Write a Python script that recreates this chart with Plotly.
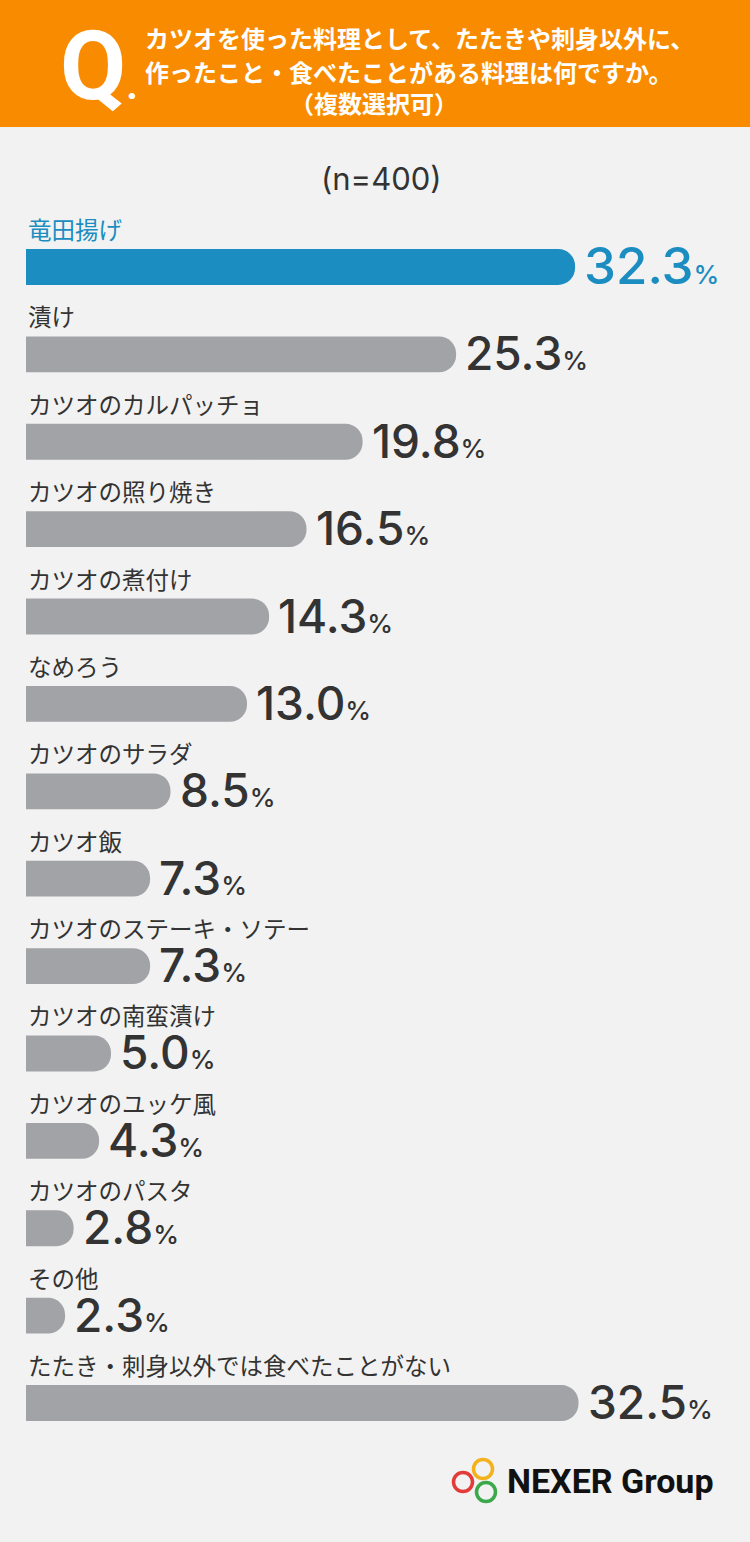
import plotly.graph_objects as go

# survey results (n=400), percentages
dishes = ['竜田揚げ', '漬け', 'カツオのカルパッチョ', 'カツオの照り焼き', 'カツオの煮付け',
          'なめろう', 'カツオのサラダ', 'カツオ飯', 'カツオのステーキ・ソテー', 'カツオの南蛮漬け',
          'カツオのユッケ風', 'カツオのパスタ', 'その他', 'たたき・刺身以外では食べたことがない']
percent = [32.3, 25.3, 19.8, 16.5, 14.3, 13.0, 8.5, 7.3, 7.3, 5.0, 4.3, 2.8, 2.3, 32.5]

question = ['カツオを使った料理として、たたきや刺身以外に、',
            '作ったこと・食べたことがある料理は何ですか。']
question_note = '（複数選択可）'
sample = '(n=400)'

W, H = 750, 1542
BLUE = '#1b8dc1'
GREY = '#a2a3a7'
DARK = '#333333'
JP = 'Noto Sans CJK JP'


def px(x):
    return x / W


def py(y):
    return 1 - y / H


bar_colors = [BLUE] + [GREY] * (len(dishes) - 1)
text_colors = [BLUE] + [DARK] * (len(dishes) - 1)

fig = go.Figure(go.Bar(
    x=percent, y=dishes, orientation='h',
    marker=dict(color=bar_colors, line=dict(width=0)),
    width=0.41, hoverinfo='skip'
))

annotations = []
for i, (name, v) in enumerate(zip(dishes, percent)):
    annotations.append(dict(
        x=0, y=name, xref='x', yref='y', xanchor='left', yanchor='middle',
        xshift=0, yshift=38, showarrow=False, text=name,
        font=dict(family=JP, size=23.5, color=text_colors[i])
    ))
    big = 51 if i == 0 else 46
    annotations.append(dict(
        x=v, y=name, xref='x', yref='y', xanchor='left', yanchor='middle',
        xshift=7, yshift=1, showarrow=False,
        text=f"{v:.1f}<span style='font-size:26px'>%</span>",
        font=dict(family='Inter', size=big, color=text_colors[i], weight=500)
    ))

# header
annotations.append(dict(x=px(58), y=py(66), xref='paper', yref='paper', xanchor='left',
                        yanchor='middle', showarrow=False,
                        text="Q<span style='font-size:40px'>.</span>",
                        font=dict(family='Roboto', size=96, color='white', weight='bold')))
for line, yy in zip(question, [37, 71]):
    annotations.append(dict(x=px(143), y=py(yy), xref='paper', yref='paper', xanchor='left',
                            yanchor='middle', showarrow=False, text=line,
                            font=dict(family=JP, size=24, color='white', weight='bold')))
annotations.append(dict(x=px(374), y=py(103), xref='paper', yref='paper', xanchor='center',
                        yanchor='middle', showarrow=False, text=question_note,
                        font=dict(family=JP, size=24, color='white', weight='bold')))
annotations.append(dict(x=px(381), y=py(178), xref='paper', yref='paper', xanchor='center',
                        yanchor='middle', showarrow=False, text=sample,
                        font=dict(family='Inter', size=31, color=DARK)))

# logo
annotations.append(dict(x=px(505), y=py(1481), xref='paper', yref='paper', xanchor='left',
                        yanchor='middle', showarrow=False, text='NEXER Group',
                        font=dict(family='Roboto', size=34, color='#111111', weight='bold')))

shapes = [dict(type='rect', xref='paper', yref='paper', x0=0, x1=1, y0=py(127), y1=1,
               fillcolor='#f98b00', line=dict(width=0), layer='below')]
for cx, cy, col in [(463, 1482, '#e23b3a'), (483, 1469, '#f3b21b'), (486, 1492, '#3ba84a')]:
    r = 9.5
    shapes.append(dict(type='circle', xref='paper', yref='paper',
                       x0=px(cx - r), x1=px(cx + r), y0=py(cy + r), y1=py(cy - r),
                       line=dict(color=col, width=3.5), fillcolor='rgba(0,0,0,0)'))

fig.update_layout(
    width=W, height=H,
    margin=dict(l=0, r=0, t=0, b=0),
    paper_bgcolor='#f2f2f2', plot_bgcolor='#f2f2f2',
    showlegend=False, hovermode=False,
    barcornerradius=17,
    xaxis=dict(domain=[px(26), px(706)], range=[0, 40], visible=False, fixedrange=True),
    yaxis=dict(domain=[py(1446.7), py(223.3)], range=[len(dishes) - 0.5, -0.5],
               visible=False, fixedrange=True),
    annotations=annotations, shapes=shapes
)

fig.write_html("out.html", config={'displayModeBar': False},
               post_script="document.body.style.margin='0px';")
